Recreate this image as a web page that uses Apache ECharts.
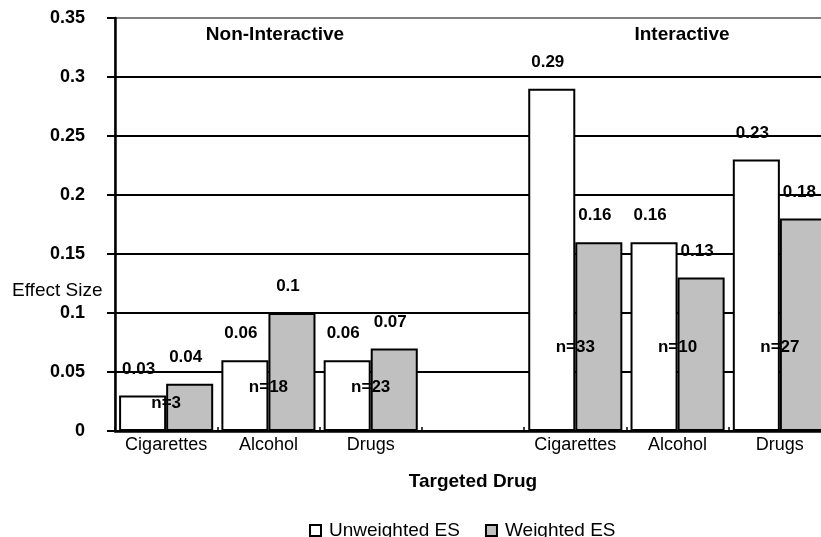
<!DOCTYPE html>
<html>
<head>
<meta charset="utf-8">
<title>Effect Size by Targeted Drug</title>
<script src="https://cdn.jsdelivr.net/npm/echarts@6/dist/echarts.min.js"></script>
<style>
  html, body { margin: 0; padding: 0; overflow: hidden; background: #fff; }
  #chart { width: 840px; height: 537px; }
</style>
</head>
<body>
<div id="chart"></div>
<script>
// Categories: three targeted drugs for each program type, with an empty slot between groups
const categories = ['Cigarettes', 'Alcohol', 'Drugs', '', 'Cigarettes', 'Alcohol', 'Drugs'];
const unweightedES = [0.03, 0.06, 0.06, null, 0.29, 0.16, 0.23];
const weightedES = [0.04, 0.1, 0.07, null, 0.16, 0.13, 0.18];
const sampleSizes = [3, 18, 23, null, 33, 10, 27];
const yTicks = { min: 0, max: 0.35, interval: 0.05 };

const FONT = '"Liberation Sans", Arial, sans-serif';

// height (in effect-size units) where each "n=" annotation sits
const nLabelLevel = [0.0237, 0.0373, 0.0373, null, 0.0712, 0.0712, 0.0712];

const chart = echarts.init(document.getElementById('chart'), null, { renderer: 'canvas' });

const valueLabel = {
  show: true,
  position: 'top',
  distance: 18,
  offset: [-4, 0],
  color: '#000',
  fontFamily: FONT,
  fontWeight: 'bold',
  fontSize: 17
};

chart.setOption({
  animation: false,
  backgroundColor: '#fff',
  grid: {
    left: 115, top: 18, right: 9, bottom: 106,
    show: true, borderColor: '#808080', borderWidth: 2, backgroundColor: 'transparent'
  },
  legend: {
    left: 304, top: 516,
    itemWidth: 11, itemHeight: 11, itemGap: 25,
    icon: 'rect',
    textStyle: { fontFamily: FONT, fontSize: 19, color: '#000', padding: [0, 0, 0, 3] },
    data: ['Unweighted ES', 'Weighted ES']
  },
  xAxis: {
    type: 'category',
    data: categories,
    name: 'Targeted Drug',
    nameLocation: 'middle',
    nameGap: 41,
    nameTextStyle: { fontFamily: FONT, fontSize: 19, fontWeight: 'bold', color: '#000' },
    axisLine: { lineStyle: { color: '#000', width: 2.5 } },
    axisTick: { show: true, inside: true, length: 4, lineStyle: { color: '#000', width: 1.5 } },
    axisLabel: { fontFamily: FONT, fontSize: 18, color: '#000', margin: 5, interval: 0 }
  },
  yAxis: {
    type: 'value',
    min: yTicks.min, max: yTicks.max, interval: yTicks.interval,
    axisLine: { show: true, lineStyle: { color: '#000', width: 2.5 } },
    axisTick: { show: true, length: 8, lineStyle: { color: '#000', width: 2 } },
    axisLabel: { fontFamily: FONT, fontSize: 18, fontWeight: 'bold', color: '#000', margin: 30 },
    splitLine: { show: true, showMaxLine: false, lineStyle: { color: '#000', width: 2 } }
  },
  graphic: [
    { type: 'text', left: 12, top: 281,
      style: { text: 'Effect Size', fontFamily: FONT, fontSize: 19, fill: '#000' } },
    { type: 'text', x: 275, y: 35,
      style: { text: 'Non-Interactive', fontFamily: FONT, fontSize: 19, fontWeight: 'bold', fill: '#000', align: 'center', verticalAlign: 'middle' } },
    { type: 'text', x: 682, y: 35,
      style: { text: 'Interactive', fontFamily: FONT, fontSize: 19, fontWeight: 'bold', fill: '#000', align: 'center', verticalAlign: 'middle' } }
  ],
  series: [
    {
      name: 'Unweighted ES',
      type: 'bar',
      data: unweightedES,
      barGap: '0%',
      barCategoryGap: '8%',
      itemStyle: { color: '#ffffff', borderColor: '#000', borderWidth: 2 },
      label: valueLabel
    },
    {
      name: 'Weighted ES',
      type: 'bar',
      data: weightedES,
      barGap: '0%',
      barCategoryGap: '8%',
      itemStyle: { color: '#c0c0c0', borderColor: '#000', borderWidth: 2 },
      label: valueLabel
    },
    {
      name: 'n',
      type: 'scatter',
      symbolSize: 0,
      silent: true,
      z: 5,
      itemStyle: { opacity: 1, color: '#000' },
      data: sampleSizes.map((n, i) => n == null ? null : { value: [i, nLabelLevel[i]], n: n }),
      label: {
        show: true,
        position: 'inside',
        formatter: p => 'n=' + p.data.n,
        color: '#000', opacity: 1, textBorderWidth: 0,
        fontFamily: FONT, fontWeight: 'bold', fontSize: 17
      }
    }
  ]
});
</script>
</body>
</html>
